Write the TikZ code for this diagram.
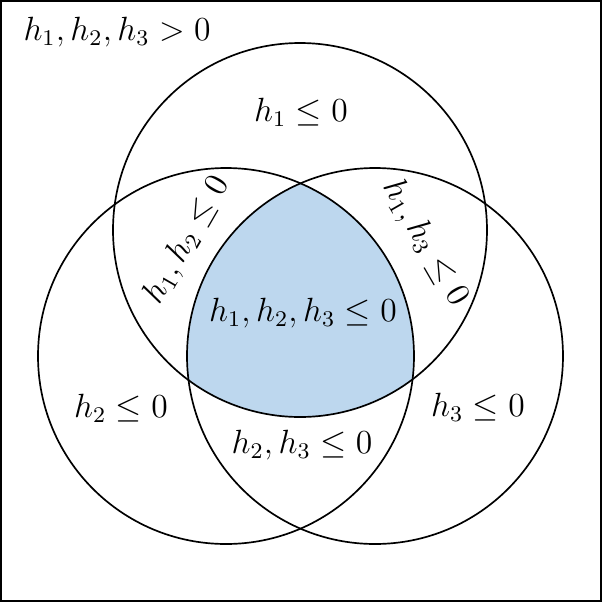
\documentclass[tikz,border=0pt]{standalone}
\begin{document}
\begin{tikzpicture}[x=0.357pt,y=-0.357pt,circ/.style={draw,line width=0.6pt},lbl/.style={inner sep=0pt,font=\large}]
\definecolor{regionblue}{RGB}{189,215,238}
\useasboundingbox (0,0) rectangle (602,602);
\draw[line width=0.7pt] (1,1) rectangle (601,601);
\begin{scope}
\clip (226,356) circle (188);
\clip (375,356) circle (188);
\fill[regionblue] (300,230) circle (187);
\end{scope}
\draw[circ] (300,230) circle (187);
\draw[circ] (226,356) circle (188);
\draw[circ] (375,356) circle (188);
\node[lbl] (t0) at (117,32) {$h_1,h_2,h_3>0$};
\node[lbl] (t1) at (301,112) {$h_1\le 0$};
\node[lbl,rotate=60] (t12) at (187,240) {$h_1,h_2\le 0$};
\node[lbl,rotate=-60] (t13) at (425,243) {$h_1,h_3\le 0$};
\node[lbl] (t123) at (303,313) {$h_1,h_2,h_3\le 0$};
\node[lbl] (t2) at (121,408) {$h_2\le 0$};
\node[lbl] (t3) at (478,407) {$h_3\le 0$};
\node[lbl] (t23) at (302,445) {$h_2,h_3\le 0$};
\end{tikzpicture}
\end{document}
